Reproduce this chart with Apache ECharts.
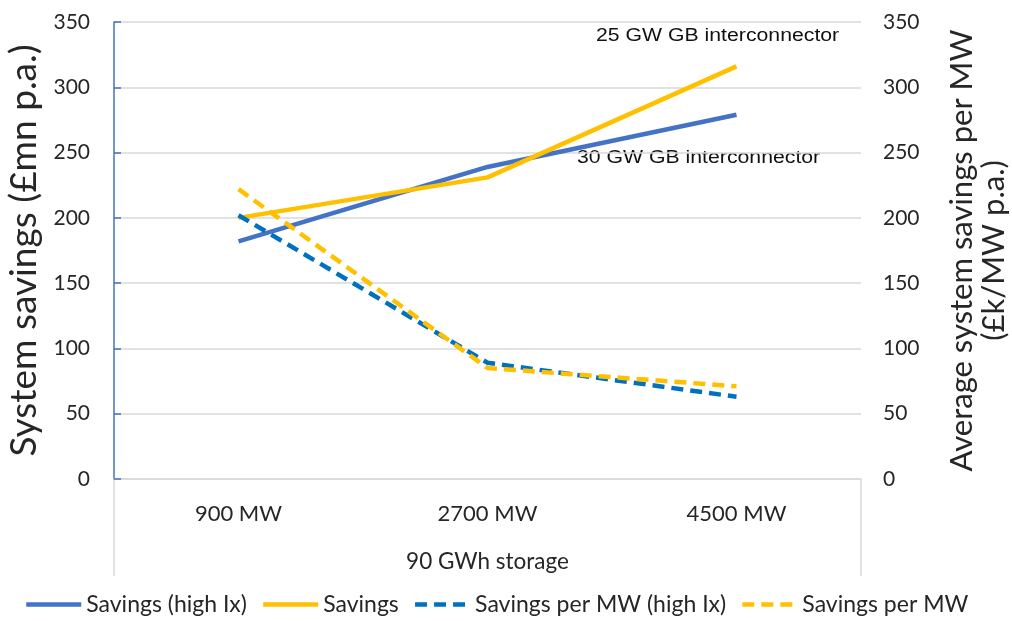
<!DOCTYPE html>
<html>
<head>
<meta charset="utf-8">
<script src="https://cdn.jsdelivr.net/npm/echarts@6/dist/echarts.min.js"></script>
<style>
  html, body { margin: 0; padding: 0; background: #fff; }
  #chart { width: 1012px; height: 621px; }
</style>
</head>
<body>
<div id="chart"></div>
<script>
// Storage power capacity scenarios (90 GWh storage)
const categories = ['900 MW', '2700 MW', '4500 MW'];
const groupLabel = '90 GWh storage';

// Total system savings, £mn p.a.
const savingsHighIx = [182, 239, 279];
const savings = [200, 231, 316];

// Average system savings per MW, £k/MW p.a.
const perMwHighIx = [202, 89, 63];
const perMw = [222, 85, 71];

const yTicks = { min: 0, max: 350, interval: 50 };

const notes = ['25 GW GB interconnector', '30 GW GB interconnector'];

const FONT = 'Lato, "Noto Sans", sans-serif';
const TEXT = '#262626';
const GRIDLINE = '#D9D9D9';
const BLUE = '#4472C4';
const YELLOW = '#FFC000';
const DARKBLUE = '#0070C0';

const plot = { left: 114, right: 151, top: 22, bottom: 142 };
const W = 1012, H = 621;
const plotLeft = plot.left, plotRight = W - plot.right, plotBottom = H - plot.bottom;

const chart = echarts.init(document.getElementById('chart'), null, { renderer: 'canvas' });

function lineSeries(name, data, color, axis, dashed) {
  return {
    name, type: 'line', data, yAxisIndex: axis,
    symbol: 'none', smooth: false,
    lineStyle: { color, width: 4.5, type: dashed ? [12, 7] : 'solid', cap: 'butt' },
    itemStyle: { color },
    z: dashed ? 3 : 2
  };
}

chart.setOption({
  animation: false,
  textStyle: { fontFamily: FONT, color: TEXT },
  grid: {
    left: plot.left, right: plot.right, top: plot.top, bottom: plot.bottom,
    containLabel: false, outerBoundsMode: 'none'
  },
  legend: {
    bottom: 0,
    left: 19,
    itemWidth: 55,
    itemHeight: 14,
    itemGap: 14,
    itemStyle: { opacity: 0 },
    lineStyle: { width: 4.5 },
    textStyle: { fontFamily: FONT, fontSize: 23, color: TEXT, padding: [0, 0, 0, 0] },
    data: ['Savings (high Ix)', 'Savings', 'Savings per MW (high Ix)', 'Savings per MW']
  },
  xAxis: {
    type: 'category',
    data: categories,
    boundaryGap: true,
    name: groupLabel,
    nameLocation: 'middle',
    nameGap: 71,
    nameTextStyle: { fontFamily: FONT, fontSize: 22.5, color: TEXT },
    axisLine: { show: true, lineStyle: { color: GRIDLINE, width: 1.5 } },
    axisTick: { show: false },
    axisLabel: { fontSize: 22, color: TEXT, margin: 24 },
    splitLine: { show: false }
  },
  yAxis: [
    {
      type: 'value',
      min: yTicks.min, max: yTicks.max, interval: yTicks.interval,
      position: 'left',
      name: 'System savings (£mn p.a.)',
      nameLocation: 'middle',
      nameRotate: 90,
      nameGap: 68,
      nameTextStyle: { fontFamily: FONT, fontSize: 37, color: TEXT },
      axisLine: { show: true, lineStyle: { color: BLUE, width: 1.5 } },
      axisTick: { show: true, inside: true, length: 7, lineStyle: { color: BLUE, width: 1.5 } },
      axisLabel: { fontSize: 21, color: TEXT, margin: 24 },
      splitLine: { show: true, lineStyle: { color: GRIDLINE, width: 1.5 } }
    },
    {
      type: 'value',
      min: yTicks.min, max: yTicks.max, interval: yTicks.interval,
      position: 'right',
      name: 'Average system savings per MW\n(£k/MW p.a.)',
      nameLocation: 'middle',
      nameRotate: 90,
      nameGap: 85,
      nameTextStyle: { fontFamily: FONT, fontSize: 31, color: TEXT, lineHeight: 32 },
      axisLine: { show: false },
      axisTick: { show: false },
      axisLabel: { fontSize: 21, color: TEXT, margin: 22 },
      splitLine: { show: false }
    }
  ],
  series: [
    lineSeries('Savings (high Ix)', savingsHighIx, BLUE, 0, false),
    lineSeries('Savings', savings, YELLOW, 0, false),
    lineSeries('Savings per MW (high Ix)', perMwHighIx, DARKBLUE, 1, true),
    lineSeries('Savings per MW', perMw, YELLOW, 1, true)
  ],
  graphic: [
    // frame around the category labels below the plot
    { type: 'line', shape: { x1: plotLeft, y1: plotBottom, x2: plotLeft, y2: plotBottom + 97 },
      style: { stroke: GRIDLINE, lineWidth: 1.5 }, silent: true },
    { type: 'line', shape: { x1: plotRight, y1: plotBottom, x2: plotRight, y2: plotBottom + 97 },
      style: { stroke: GRIDLINE, lineWidth: 1.5 }, silent: true },
    // interconnector notes
    { type: 'text', left: 596, top: 27, scaleX: 1.18,
      style: { text: notes[0], font: '18px "Liberation Sans", Arial, sans-serif', fill: '#111' } },
    { type: 'text', left: 577, top: 149, scaleX: 1.18,
      style: { text: notes[1], font: '18px "Liberation Sans", Arial, sans-serif', fill: '#111' } }
  ]
});
</script>
</body>
</html>
